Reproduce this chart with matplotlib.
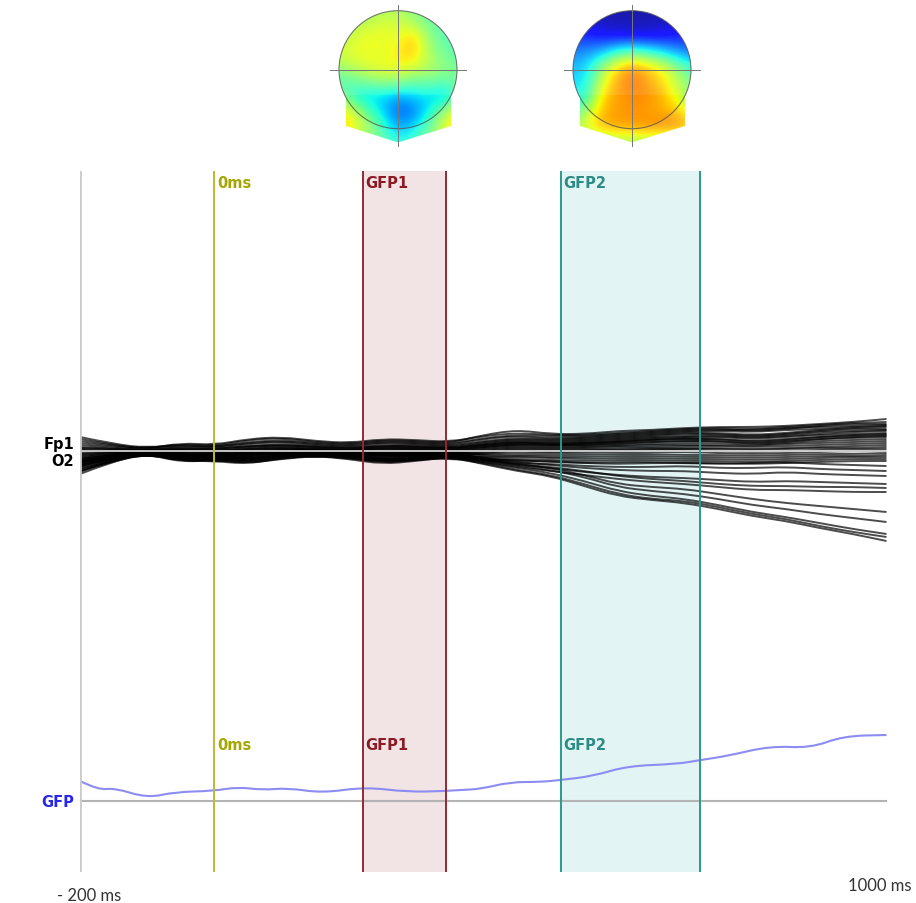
import matplotlib
matplotlib.use("Agg")
import matplotlib.pyplot as plt
from matplotlib.path import Path
from matplotlib.patches import PathPatch, Circle, Polygon

W, H = 916, 904

# time axis (ms), one sample every 50 ms
times = [-200, -150, -100, -50, 0, 50, 100, 150, 200, 250, 300, 350, 400,
         450, 500, 550, 600, 650, 700, 750, 800, 850, 900, 950, 1000]

# butterfly plot, amplitude of each channel (uV)
eeg_dense = [
    [14, 7, 3, 7, 5, 11, 13, 9, 7, 11, 10, 8, 16, 21, 17, 17, 20, 21, 23, 24, 24, 25, 27, 29, 32],
    [12, 6, 2, 8, 6, 12, 14, 10, 8, 12, 11, 9, 15, 18, 16, 16, 18, 20, 22, 23, 22, 24, 26, 28, 29],
    [10, 5, 3, 6, 4, 9, 11, 8, 6, 10, 9, 7, 13, 16, 15, 15, 17, 19, 21, 22, 20, 22, 25, 27, 27],
    [8, 4, 2, 5, 4, 8, 10, 7, 5, 9, 8, 6, 12, 15, 13, 14, 16, 18, 20, 21, 21, 23, 24, 25, 26],
    [6, 3, 1, 4, 3, 7, 9, 6, 4, 8, 7, 5, 10, 13, 12, 13, 15, 17, 19, 20, 19, 21, 22, 24, 25],
    [4, 2, 1, 3, 2, 5, 7, 5, 3, 6, 6, 4, 9, 12, 11, 12, 14, 16, 18, 18, 16, 18, 21, 23, 24],
    [2, 1, 0, 2, 1, 4, 6, 4, 2, 5, 5, 3, 8, 11, 10, 11, 13, 15, 17, 17, 15, 17, 20, 22, 22],
    [0, 0, 0, 1, 0, 3, 5, 3, 1, 4, 4, 2, 7, 10, 9, 10, 12, 14, 15, 16, 14, 16, 19, 20, 21],
    [-2, -1, 0, 0, -1, 2, 4, 2, 1, 3, 3, 2, 6, 9, 8, 9, 11, 13, 14, 15, 13, 15, 17, 19, 20],
    [-4, -2, -1, -1, -2, 1, 3, 1, 0, 2, 2, 1, 5, 8, 7, 8, 10, 12, 13, 14, 12, 14, 16, 17, 18],
    [-6, -3, -1, -2, -3, 0, 2, 1, 0, 1, 1, 0, 4, 7, 6, 7, 9, 11, 12, 12, 10, 12, 14, 15, 16],
    [-8, -4, -1, -3, -4, -1, 1, 0, -1, 0, 0, -1, 3, 6, 5, 6, 8, 9, 10, 10, 8, 10, 12, 13, 14],
    [-10, -5, -2, -4, -4, -2, 0, -1, -2, -1, -1, -1, 2, 5, 4, 5, 6, 7, 8, 8, 6, 8, 10, 11, 12],
    [-12, -6, -2, -5, -5, -3, -1, -1, -2, -2, -2, -2, 1, 4, 3, 4, 5, 6, 6, 6, 5, 7, 8, 9, 10],
    [-14, -7, -2, -6, -6, -4, -2, -2, -3, -3, -3, -2, 0, 3, 2, 3, 4, 4, 5, 5, 4, 5, 6, 7, 8],
    [-16, -8, -3, -7, -7, -5, -2, -2, -3, -4, -4, -3, -1, 2, 1, 2, 2, 3, 3, 3, 2, 3, 4, 5, 6],
    [-18, -9, -3, -8, -8, -6, -3, -3, -4, -5, -5, -3, -2, 1, 0, 1, 1, 2, 2, 2, 1, 2, 3, 3, 4],
    [-20, -10, -3, -9, -8, -7, -4, -3, -4, -6, -5, -4, -3, 0, -1, 0, 0, 1, 1, 0, -1, 0, 1, 2, 2],
    [-9, -4, -1, -4, -5, -3, -1, -1, -2, -3, -2, -1, -4, -2, -2, -2, -1, -1, -1, -2, -3, -2, -1, 0, 0],
    [-5, -2, 0, -3, -3, -2, 0, 0, -1, -2, -1, 0, -5, -4, -4, -4, -3, -3, -4, -4, -5, -4, -3, -3, -2],
    [-13, -6, -2, -6, -6, -5, -2, -2, -3, -5, -4, -3, -6, -5, -6, -6, -5, -5, -6, -6, -7, -6, -5, -5, -4],
    [-7, -3, -1, -4, -4, -3, -1, -1, -2, -4, -3, -2, -7, -6, -7, -8, -7, -7, -8, -8, -9, -8, -7, -6, -6],
    [3, 2, 1, 2, 2, 5, 6, 4, 3, 5, 4, 3, 6, 9, 7, 8, 9, 11, 12, 12, 9, 11, 14, 16, 17],
    [1, 0, 0, 1, 0, 2, 3, 2, 1, 3, 2, 1, 4, 7, 6, 6, 7, 9, 10, 10, 7, 9, 12, 14, 15],
    [-3, -1, 0, -1, -2, -1, 1, 1, 0, 0, 0, 0, -8, -8, -9, -10, -9, -9, -10, -10, -11, -10, -9, -8, -8],
    [-11, -5, -2, -5, -5, -4, -2, -1, -2, -4, -3, -2, -9, -9, -11, -12, -11, -11, -12, -12, -13, -12, -11, -10, -10],
]
eeg_middle = [
    [-10, -5, -1, -6, -6, -8, -4, -3, -5, -8, -7, -5, -8, -10, -10, -12, -13, -12, -12, -13, -12, -11, -13, -14, -15],
    [-14, -6, -2, -8, -7, -10, -5, -4, -6, -10, -8, -5, -9, -12, -13, -15, -16, -16, -15, -17, -17, -16, -18, -19, -20],
    [-8, -4, 0, -5, -5, -7, -3, -2, -4, -7, -5, -3, -7, -11, -14, -17, -19, -20, -20, -22, -23, -21, -23, -24, -25],
    [-16, -7, -2, -9, -8, -11, -6, -4, -6, -11, -9, -6, -10, -14, -17, -21, -24, -26, -27, -29, -31, -30, -31, -32, -33],
    [-11, -5, -1, -7, -7, -9, -5, -3, -5, -9, -7, -5, -9, -13, -16, -20, -25, -28, -30, -33, -35, -35, -36, -36, -37],
    [-21, -9, -3, -10, -9, -12, -7, -5, -7, -11, -9, -6, -11, -16, -20, -24, -28, -31, -33, -36, -39, -39, -40, -41, -41],
]
eeg_outliers = [
    [-12, -6, -1, -7, -6, -8, -4, -2, -4, -8, -6, -4, -8, -13, -17, -24, -33, -36, -38, -43, -48, -52, -55, -58, -61],
    [-15, -7, -2, -8, -7, -9, -5, -3, -5, -9, -7, -5, -9, -15, -19, -26, -36, -40, -43, -48, -54, -58, -63, -67, -71],
    [-18, -9, -3, -10, -10, -13, -7, -5, -8, -13, -10, -6, -11, -17, -22, -30, -40, -45, -48, -54, -61, -66, -72, -78, -83],
    [-23, -10, -3, -11, -9, -12, -8, -5, -7, -12, -9, -7, -12, -19, -24, -33, -43, -48, -50, -56, -63, -68, -75, -81, -86],
    [-20, -8, -2, -9, -8, -10, -6, -4, -6, -10, -8, -6, -13, -20, -25, -35, -45, -49, -52, -58, -65, -70, -77, -83, -90],
]

# global field power
gfp_ms = [-200, -173, -148, -100, -59, -2, 35, 71, 110, 160, 224, 288, 343, 366,
          396, 440, 485, 515, 564, 614, 689, 723, 763, 827, 887, 936, 1000]
gfp_uv = [20, 11, 13, 3, 9, 10, 14, 11, 13, 8, 14, 9, 10, 11,
          12, 19, 19, 21, 25, 35, 37, 41, 45, 55, 53, 65, 66]

event_ms = 0
gfp1_window = (221, 344)
gfp2_window = (515, 722)

# topographic maps, jet scale 0..1, rows top -> bottom, cols left -> right
topo_left = [
    [0.48, 0.50, 0.52, 0.54, 0.54, 0.50, 0.46, 0.42, 0.40],
    [0.54, 0.56, 0.57, 0.60, 0.60, 0.54, 0.47, 0.43, 0.40],
    [0.56, 0.60, 0.64, 0.64, 0.62, 0.70, 0.52, 0.45, 0.42],
    [0.60, 0.63, 0.64, 0.62, 0.66, 0.72, 0.55, 0.47, 0.44],
    [0.54, 0.58, 0.62, 0.64, 0.65, 0.62, 0.57, 0.52, 0.48],
    [0.43, 0.45, 0.50, 0.52, 0.52, 0.46, 0.48, 0.45, 0.48],
    [0.52, 0.40, 0.32, 0.34, 0.28, 0.33, 0.34, 0.30, 0.46],
    [0.68, 0.60, 0.45, 0.32, 0.22, 0.24, 0.36, 0.52, 0.68],
    [0.72, 0.66, 0.55, 0.42, 0.28, 0.34, 0.46, 0.62, 0.72],
    [0.62, 0.56, 0.50, 0.45, 0.38, 0.42, 0.48, 0.56, 0.62],
]
topo_right = [
    [0.03, 0.03, 0.03, 0.03, 0.03, 0.03, 0.03, 0.03, 0.03],
    [0.08, 0.07, 0.05, 0.04, 0.04, 0.04, 0.05, 0.07, 0.08],
    [0.16, 0.14, 0.12, 0.11, 0.10, 0.10, 0.11, 0.13, 0.16],
    [0.24, 0.26, 0.30, 0.40, 0.45, 0.40, 0.34, 0.27, 0.22],
    [0.30, 0.34, 0.52, 0.68, 0.76, 0.70, 0.63, 0.50, 0.40],
    [0.34, 0.36, 0.62, 0.74, 0.80, 0.74, 0.68, 0.58, 0.48],
    [0.36, 0.42, 0.68, 0.74, 0.76, 0.76, 0.72, 0.62, 0.50],
    [0.40, 0.56, 0.72, 0.74, 0.76, 0.74, 0.72, 0.70, 0.60],
    [0.56, 0.66, 0.72, 0.74, 0.74, 0.76, 0.78, 0.78, 0.72],
    [0.45, 0.48, 0.52, 0.55, 0.55, 0.55, 0.52, 0.48, 0.45],
]
topo_centers = [398, 632]

GFP_BASE = -350  # where the GFP trace sits under the butterfly plot


def smooth_line(ax, x, y, **kw):
    # quadratic bezier through the midpoints, drawn as one path
    pts = list(zip(x, y))
    verts = [pts[0]]
    codes = [Path.MOVETO]
    for i in range(1, len(pts) - 1):
        mid = ((pts[i][0] + pts[i + 1][0]) / 2, (pts[i][1] + pts[i + 1][1]) / 2)
        verts += [pts[i], mid]
        codes += [Path.CURVE3, Path.CURVE3]
    verts.append(pts[-1])
    codes.append(Path.LINETO)
    ax.add_patch(PathPatch(Path(verts, codes), fill=False, **kw))


def fx(px):
    return px / W


def fy(py):
    return 1 - py / H


fig = plt.figure(figsize=(W / 100, H / 100), dpi=100)

# main panel
ax = fig.add_axes([fx(80), fy(873), fx(886.5) - fx(80), fy(172) - fy(873)])
ax.set_xlim(times[0], times[-1])
ax.set_ylim(-421, 280)
ax.set_axis_off()

ax.axvspan(*gfp1_window, color="#f2e4e4", zorder=0, lw=0)
ax.axvspan(*gfp2_window, color="#e3f4f4", zorder=0, lw=0)

for ch in eeg_dense + eeg_middle + eeg_outliers:
    smooth_line(ax, times, ch, color="black", lw=1.4, alpha=0.7, zorder=2)

ax.axhline(0, color="#e2e2e2", lw=1.2, zorder=3)

smooth_line(ax, gfp_ms, [GFP_BASE + v for v in gfp_uv], color="#8c8cf2", lw=1.5, zorder=3)
ax.axhline(GFP_BASE, color="#b4b4b4", lw=1.5, zorder=2)

ax.axvline(times[0], color="#cccccc", lw=2, zorder=4)
ax.axvline(event_ms, color="#bcbc30", lw=1.4, zorder=4)
for x in gfp1_window:
    ax.axvline(x, color="#962832", lw=1.4, zorder=4)
for x in gfp2_window:
    ax.axvline(x, color="#2a9a90", lw=1.4, zorder=4)

lab = dict(fontsize=10.5, fontweight="bold", family="DejaVu Sans", va="center")
for y in (269, -293):
    ax.text(event_ms + 4, y, "0ms", color="#a6a600", zorder=5, **lab)
    ax.text(gfp1_window[0] + 4, y, "GFP1", color="#8b1a25", zorder=5, **lab)
    ax.text(gfp2_window[0] + 4, y, "GFP2", color="#2a8c84", zorder=5, **lab)

fig.text(fx(74), fy(445), "Fp1", ha="right", color="black", **lab)
fig.text(fx(74), fy(461), "O2", ha="right", color="black", **lab)
fig.text(fx(74), fy(803), "GFP", ha="right", color="#2828e6", **lab)

fig.text(fx(57), fy(896), "- 200 ms", family="Lato", fontsize=12, color="#333333", va="center")
fig.text(fx(848), fy(886), "1000 ms", family="Lato", fontsize=12, color="#333333", va="center")

# topographic maps on top
axt = fig.add_axes([0, fy(150), 1, fy(0) - fy(150)])
axt.set_axis_off()

for cx, grid in zip(topo_centers, [topo_left, topo_right]):
    cy, r = 70.7, 59
    shapes = [
        Circle((cx, cy), r, transform=axt.transData),
        Polygon([(cx - 52, 96), (cx - 52, 127), (cx, 143.5), (cx + 53, 127), (cx + 53, 96)],
                closed=True, transform=axt.transData),
    ]
    for shp in shapes:
        im = axt.imshow(grid, cmap="jet", vmin=0, vmax=1, interpolation="bicubic",
                        extent=(cx - 67.5, cx + 67.5, 150, 0), alpha=0.9, zorder=1)
        im.set_clip_path(shp)
    axt.add_patch(Circle((cx, cy), r, fill=False, ec="#555555", lw=0.8, alpha=0.8, zorder=2))
    axt.plot([cx - 68, cx + 68], [cy, cy], color="#777777", lw=0.7, zorder=3)
    axt.plot([cx, cx], [6, 147], color="#777777", lw=0.7, zorder=3)
axt.set_xlim(0, W)
axt.set_ylim(150, 0)
axt.set_aspect("auto")

fig.savefig("out.png", dpi=100)
